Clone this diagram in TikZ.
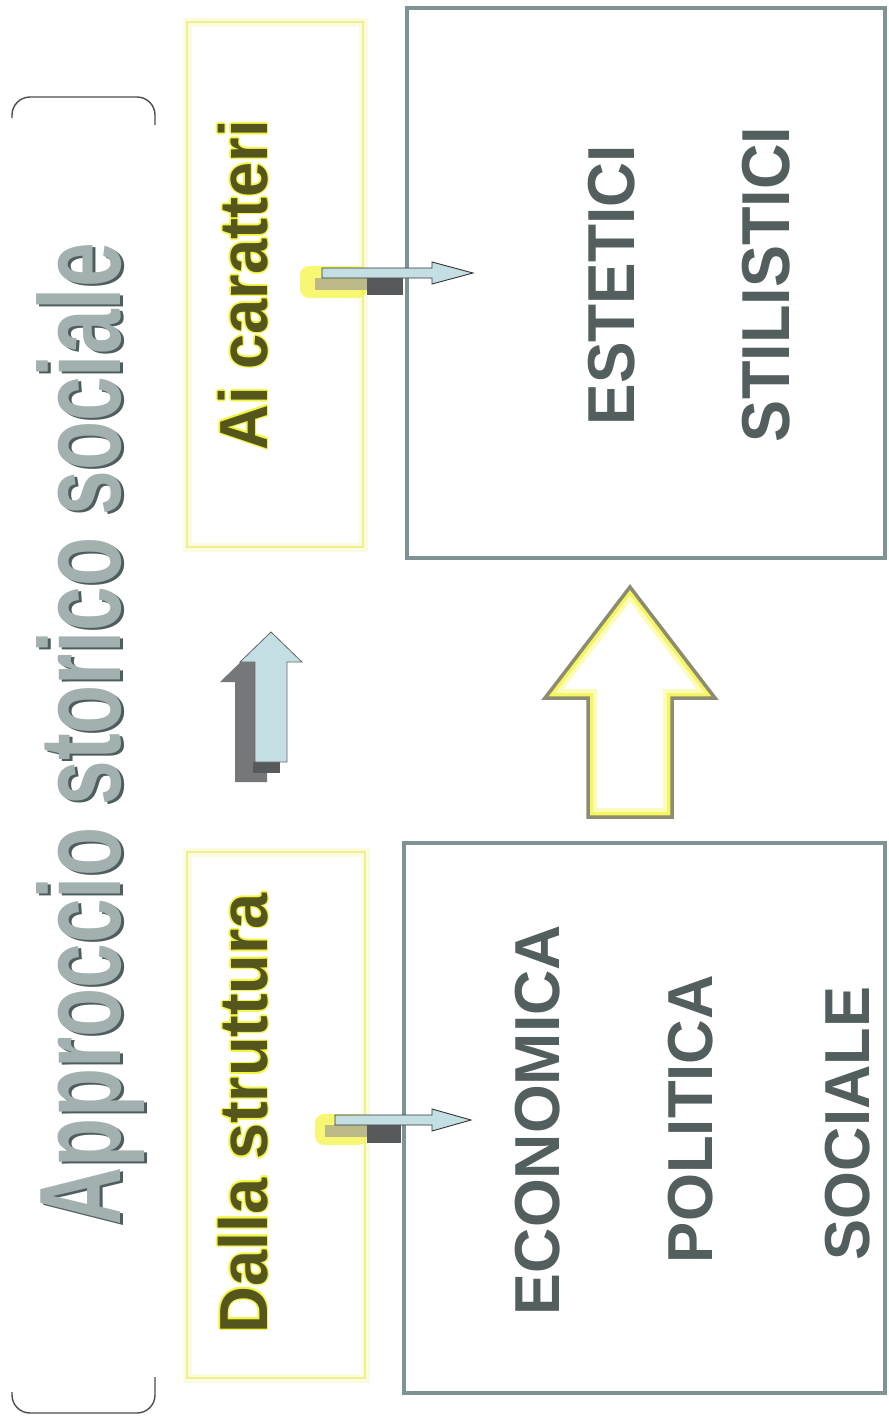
\documentclass[tikz,border=0pt]{standalone}
\usepackage{fontspec}
\setmainfont{Liberation Sans}
\usepackage{graphicx}
\definecolor{boxgray}{HTML}{7E9494}
\definecolor{ybox}{HTML}{F0F08A}
\definecolor{labgray}{HTML}{535E5E}
\definecolor{olivetext}{HTML}{55551E}
\definecolor{glowy}{HTML}{F4F43A}
\definecolor{titlelight}{HTML}{A3B0B0}
\definecolor{titledark}{HTML}{4E5E5E}
\definecolor{arrowblue}{HTML}{C4DFE3}
\definecolor{shadowgray}{HTML}{767779}
\definecolor{darkshadow}{HTML}{58595B}
\definecolor{bigedge}{HTML}{8C8C72}
\newcommand\fitt[3]{\resizebox*{#1pt}{#2pt}{#3}}
\tikzset{
  graybox/.style={draw=boxgray, line width=4.5pt},
  yellowbox/.style={draw=ybox, line width=2.5pt},
  yglow/.style={draw=ybox, line width=9pt, opacity=0.25},
  vtext/.style={rotate=90, inner sep=0pt, outer sep=0pt, font=\bfseries},
  lbl/.style={vtext, text=labgray},
  bracketline/.style={draw=black!70, line width=1.4pt, rounded corners=18pt},
  smallshaft/.style={fill=arrowblue, draw=black!80, line width=0.9pt},
  blob/.style={fill=glowy, opacity=0.7, rounded corners=9pt},
}
\begin{document}
\begin{tikzpicture}[x=1pt,y=-1pt]
\useasboundingbox[fill=white] (0,0) rectangle (889,1422);

% title bracket
\draw[bracketline] (12,118) -- (12,97) -- (155,97) -- (155,125);
\draw[bracketline] (12,1392) -- (12,1413) -- (155,1413) -- (155,1377);

% title
\node[vtext, text=titledark] (titleshadow) at (94,736) {\fitt{982}{108}{Approccio storico sociale}};
\node[vtext, text=titlelight] (title) at (91,734) {\fitt{982}{108}{Approccio storico sociale}};

% yellow boxes
\draw[yglow] (187,22) rectangle (363,547);
\draw[yellowbox] (187,22) rectangle (363,547);
\draw[yglow] (187,852) rectangle (365,1378);
\draw[yellowbox] (187,852) rectangle (365,1378);

% gray boxes
\draw[graybox] (407,8) rectangle (885,558);
\draw[graybox] (404,843) rectangle (885,1393);

% yellow-box texts with soft glow
\foreach \dx/\dy [count=\i] in {-1.6/0,1.6/0,0/-1.6,0/1.6,-1.1/-1.1,1.1/1.1,-1.1/1.1,1.1/-1.1}{
  \node[vtext, text=glowy, opacity=0.8, xshift=\dx pt, yshift=\dy pt] (aiglow\i) at (243,285) {\fitt{330}{50}{Ai caratteri}};
  \node[vtext, text=glowy, opacity=0.8, xshift=\dx pt, yshift=\dy pt] (daglow\i) at (243,1113) {\fitt{440}{50}{Dalla struttura}};
}
\node[vtext, text=olivetext] (ai) at (243,285) {\fitt{330}{50}{Ai caratteri}};
\node[vtext, text=olivetext] (dalla) at (243,1113) {\fitt{440}{50}{Dalla struttura}};

% labels in gray boxes
\node[lbl] (estetici) at (611.5,285) {\fitt{280}{47}{ESTETICI}};
\node[lbl] (stilistici) at (766,284.5) {\fitt{315}{48}{STILISTICI}};
\node[lbl] (economica) at (537.5,1120) {\fitt{390}{45}{ECONOMICA}};
\node[lbl] (politica) at (690.5,1119) {\fitt{288}{45}{POLITICA}};
\node[lbl] (sociale) at (847.5,1123.5) {\fitt{273}{45}{SOCIALE}};

% small arrow, top
\fill[blob] (300,266) rectangle (367,298);
\fill[fill=olive!45!gray!60] (315,278) rectangle (367,290);
\fill[darkshadow] (367,278) rectangle (403,295);
\draw[smallshaft] (322,268) -- (432,268) -- (432,262) -- (473,273) -- (432,284) -- (432,278) -- (322,278) -- cycle;

% small arrow, bottom
\fill[blob] (315,1114) rectangle (367,1145);
\fill[fill=olive!45!gray!60] (325,1125) rectangle (367,1137);
\fill[darkshadow] (367,1125) rectangle (401,1143);
\draw[smallshaft] (335,1115) -- (432,1115) -- (432,1109) -- (471,1120) -- (432,1131) -- (432,1125) -- (335,1125) -- cycle;

% middle blue arrow with shadow
\fill[shadowgray] (235,782) -- (235,682) -- (220,682) -- (251,652) -- (282,682) -- (267,682) -- (267,782) -- cycle;
\fill[darkshadow] (253,762) rectangle (280,773);
\draw[fill=arrowblue, draw=black!60, line width=0.8pt] (255,762) -- (255,662) -- (240,662) -- (271,632) -- (302,662) -- (287,662) -- (287,762) -- cycle;

% big hollow arrow
\begin{scope}
  \clip (588,817) -- (588,698) -- (545,698) -- (630,587) -- (715,698) -- (672,698) -- (672,817) -- cycle;
  \draw[glowy, line width=18pt, opacity=0.35] (588,817) -- (588,698) -- (545,698) -- (630,587) -- (715,698) -- (672,698) -- (672,817) -- cycle;
  \draw[glowy, line width=10pt, opacity=0.7] (588,817) -- (588,698) -- (545,698) -- (630,587) -- (715,698) -- (672,698) -- (672,817) -- cycle;
\end{scope}
\draw[bigedge, line width=3.5pt, line join=miter] (588,817) -- (588,698) -- (545,698) -- (630,587) -- (715,698) -- (672,698) -- (672,817) -- cycle;
\end{tikzpicture}
\end{document}
